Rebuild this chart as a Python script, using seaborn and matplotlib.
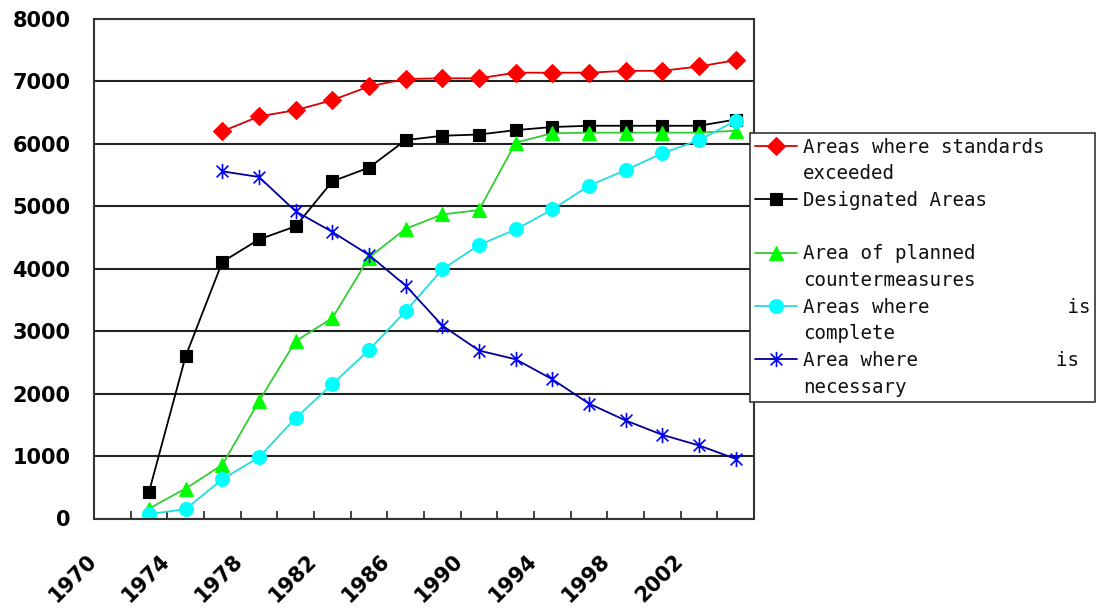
import numpy as np
import pandas as pd
import matplotlib
matplotlib.use("Agg")
import matplotlib.pyplot as plt
import matplotlib.transforms as mtransforms
from matplotlib.path import Path
from matplotlib.lines import Line2D
import seaborn as sns

# Data (every 2 years, 1972-2004)
years = list(range(1972, 2005, 2))
nan = np.nan
exceeded = [nan, nan, 6200, 6440, 6540, 6700, 6920, 7040, 7050, 7050,
            7140, 7140, 7140, 7170, 7170, 7240, 7340]
designated = [425, 2600, 4110, 4470, 4680, 5400, 5620, 6060, 6130, 6150,
              6220, 6270, 6290, 6290, 6290, 6290, 6390]
planned = [160, 480, 860, 1880, 2840, 3210, 4180, 4640, 4870, 4940,
           6020, 6170, 6180, 6180, 6180, 6180, 6210]
complete = [70, 150, 630, 980, 1610, 2150, 2700, 3320, 3990, 4380,
            4630, 4950, 5330, 5580, 5850, 6060, 6370]
necessary = [nan, nan, 5560, 5470, 4920, 4590, 4220, 3730, 3090, 2690,
             2550, 2230, 1840, 1570, 1340, 1170, 955]

label_years = list(range(1970, 2003, 4))
boundary_years = list(range(1971, 2004, 2))

legend_rows = [
    "Areas where standards", "exceeded",
    "Designated Areas", " ",
    "Area of planned", "countermeasures",
    "Areas where            is", "complete",
    "Area where            is", "necessary",
]

# Excel-like star marker: X with a vertical bar
star = Path([(-1, -1), (1, 1), (-1, 1), (1, -1), (0, -1.3), (0, 1.3)],
            [Path.MOVETO, Path.LINETO, Path.MOVETO, Path.LINETO, Path.MOVETO, Path.LINETO])

sns.set_style("white")

fig = plt.figure(figsize=(10.96, 6.10), dpi=100)
ax = fig.add_axes([94 / 1096, 1 - 518.5 / 610, 660 / 1096, 499.5 / 610])

styles = [
    (exceeded, "#D80000", "#FF0000", "#FF0000", "D", 9),
    (designated, "#000000", "#000000", "#000000", "s", 9),
    (planned, "#33CC33", "#00FF00", "#00FF00", "^", 10),
    (complete, "#22DDDD", "#00FFFF", "#00FFFF", "o", 10),
    (necessary, "#000099", "#0000FF", "#0000FF", star, 11),
]

handles = []
for vals, lc, fc, ec, mk, ms in styles:
    df = pd.DataFrame({"year": years, "value": vals}).dropna()
    sns.lineplot(data=df, x="year", y="value", ax=ax, color=lc, linewidth=1.3,
                 marker=mk, markersize=ms, markerfacecolor=fc,
                 markeredgecolor=ec, markeredgewidth=1.2 if mk is star else 0.8)
    handles.append(ax.lines[-1])

ax.set_xlim(1969, 2005)
ax.set_ylim(0, 8000)
ax.set_xlabel("")
ax.set_ylabel("")

ax.set_yticks(range(0, 8001, 1000))
ax.yaxis.grid(True, color="#222222", linewidth=1.5)
ax.xaxis.grid(False)
for s in ax.spines.values():
    s.set_visible(True)
    s.set_color("#333333")
    s.set_linewidth(1.5)

ax.set_xticks(label_years)
ax.set_xticks(boundary_years, minor=True)
ax.tick_params(axis="x", which="major", length=0, pad=23, labelcolor="black")
ax.tick_params(axis="x", which="minor", direction="in", length=6, width=1.3,
               color="#333333", bottom=True)
ax.tick_params(axis="y", length=0, pad=17, labelcolor="black")

tick_font = dict(family="DejaVu Sans", weight="bold", size=15)
ax.set_yticklabels([str(v) for v in range(0, 8001, 1000)], fontdict=tick_font)
ax.set_xticklabels([str(y) for y in label_years], fontdict=tick_font,
                   rotation=45, ha="right")
shift = mtransforms.ScaledTranslation(-12 / 100, 0, fig.dpi_scale_trans)
for lab in ax.get_xticklabels():
    lab.set_transform(lab.get_transform() + shift)

# legend: one row per text line so each marker sits on the first line
blank = Line2D([], [], linestyle="none", marker="none")
leg_handles = []
for h in handles:
    leg_handles += [h, blank]
leg = ax.legend(leg_handles, legend_rows, loc="upper left",
                bbox_to_anchor=(750 / 1096, 1 - 133 / 610),
                bbox_transform=fig.transFigure, borderaxespad=0,
                prop=dict(family="DejaVu Sans Mono", size=13.8),
                handlelength=2.2, handletextpad=0.3, labelspacing=0.4,
                borderpad=0.25, frameon=True, fancybox=False, framealpha=1)
leg.get_frame().set_edgecolor("#333333")
leg.get_frame().set_linewidth(1.2)
for t in leg.get_texts():
    t.set_color("#111111")

fig.savefig("out.png", dpi=100)
